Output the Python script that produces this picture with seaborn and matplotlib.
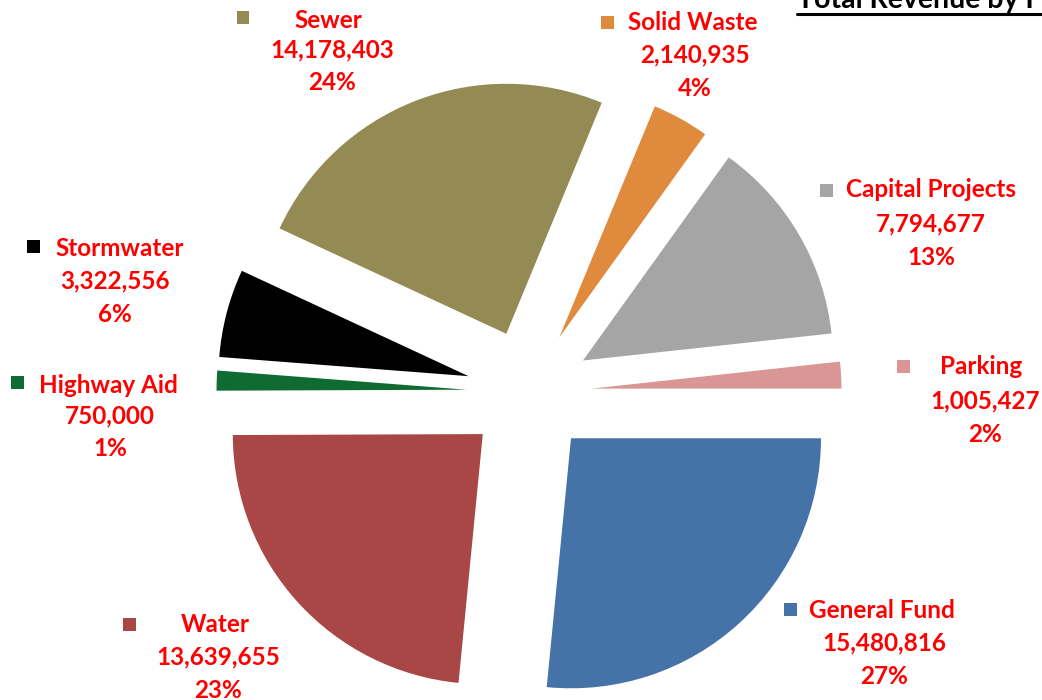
import matplotlib
matplotlib.use("Agg")
import matplotlib.pyplot as plt
from matplotlib.patches import Rectangle
from matplotlib.lines import Line2D
import seaborn as sns

# ---- data ----
categories = ["General Fund", "Water", "Highway Aid", "Stormwater",
              "Sewer", "Solid Waste", "Capital Projects", "Parking"]
values = [15480816, 13639655, 750000, 3322556,
          14178403, 2140935, 7794677, 1005427]
percent_labels = ["27%", "23%", "1%", "6%", "24%", "4%", "13%", "2%"]
colors = ["#4572A7", "#A84745", "#0F6B32", "#000000",
          "#948A54", "#DF8A3D", "#A5A5A5", "#D99694"]
title = "Total Revenue by Fund"

sns.set_theme(style="white")
plt.rcParams["font.family"] = ["Lato", "DejaVu Sans"]

W, H = 1042, 700
fig = plt.figure(figsize=(W / 100, H / 100), dpi=100)
ax = fig.add_axes([0, 0, 1, 1])

# pie geometry (pixels): center and radius
cx, cy, R = 529, 392, 250
ax.pie(values, colors=colors, startangle=0, counterclock=False,
       explode=[0.25] * len(values), radius=1,
       wedgeprops=dict(linewidth=0))
ax.set_aspect("auto")
ax.set_xlim((0 - cx) / R, (W - cx) / R)
ax.set_ylim(-(H - cy) / R, cy / R)
ax.axis("off")

# label layout (pixel positions from top-left): name line center, value line center, square
name_pos = [(882, 610), (215, 625), (108, 385), (120, 249),
            (328, 20), (693, 23), (931, 190), (981, 367)]
value_pos = [(884, 643), (218, 657), (110, 416), (115, 281),
             (332, 50), (695, 55), (931, 224), (985, 401)]
square_pos = [(790, 609), (129, 624), (17, 383), (33, 247),
              (243, 17), (607, 22), (826, 190), (903, 366)]

fs = 17.5
for i, name in enumerate(categories):
    nx, ny = name_pos[i]
    vx, vy = value_pos[i]
    fig.text(nx / W, 1 - ny / H, name, color="#FF0000", fontsize=fs,
             fontweight="bold", ha="center", va="center")
    fig.text(vx / W, 1 - vy / H, f"{values[i]:,}", color="#FF0000", fontsize=fs,
             fontweight="bold", ha="center", va="center")
    fig.text(vx / W, 1 - (vy + 33) / H, percent_labels[i], color="#FF0000",
             fontsize=fs, fontweight="bold", ha="center", va="center")
    sx, sy = square_pos[i]
    s = 13
    fig.patches.append(Rectangle(((sx - s / 2) / W, 1 - (sy + s / 2) / H),
                                 s / W, s / H, transform=fig.transFigure,
                                 facecolor=colors[i], edgecolor="none"))

# title (clipped at top-right, underlined)
fig.text(797 / W, 1 - 8 / H, title, color="black", fontsize=20.5,
         fontweight="bold", ha="left", va="baseline")
fig.lines.append(Line2D([797 / W, 1.0], [1 - 13.5 / H, 1 - 13.5 / H],
                        transform=fig.transFigure, color="black", linewidth=2.2))

fig.savefig("out.png", dpi=100)
